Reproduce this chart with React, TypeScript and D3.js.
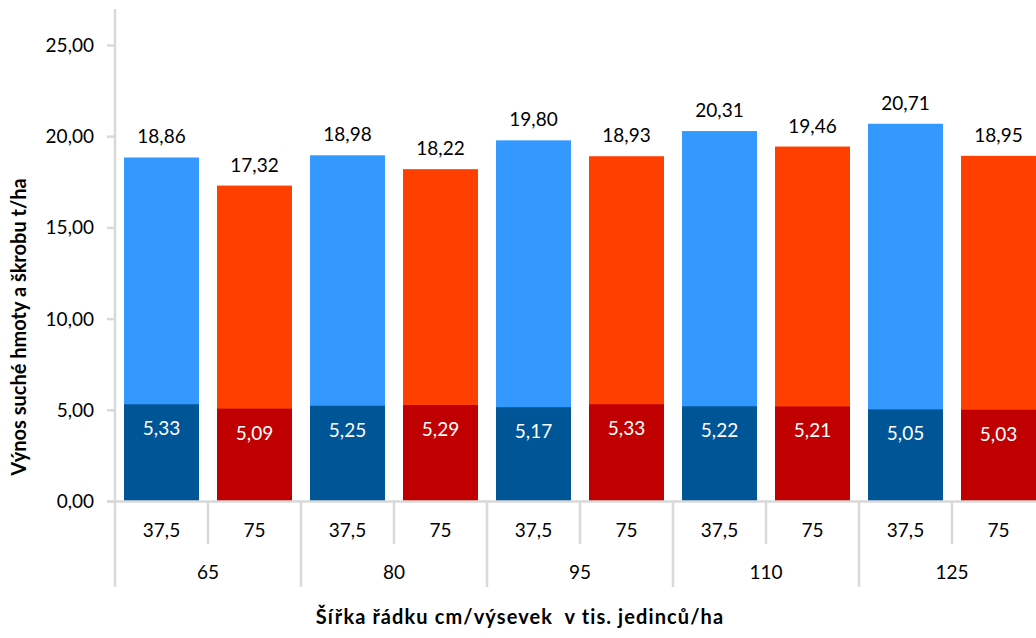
import React from "react";
import * as d3 from "d3";

const groups = ["65", "80", "95", "110", "125"];
const rowWidths = ["37,5", "75"];
const totals = [18.86, 17.32, 18.98, 18.22, 19.8, 18.93, 20.31, 19.46, 20.71, 18.95];
const starch = [5.33, 5.09, 5.25, 5.29, 5.17, 5.33, 5.22, 5.21, 5.05, 5.03];
const yTicks = [0, 5, 10, 15, 20, 25];

const W = 1036;
const H = 638;
const FONT = "Lato, 'Open Sans', sans-serif";
const fmt = (v: number) => v.toFixed(2).replace(".", ",");

export default function App() {
  const left = 115;
  const step = 93;
  const n = totals.length;
  const idx = d3.range(n);
  const x = d3
    .scaleBand<number>()
    .domain(idx)
    .range([left, left + step * n])
    .paddingInner(0.194)
    .paddingOuter(0.097);
  const y = d3.scaleLinear().domain([0, 25]).range([501.5, 45.5]);
  const bw = x.bandwidth();
  const y0 = y(0);
  const top = 9;
  const shortEnd = 544;
  const longEnd = 587;
  const grid = "#d9d9d9";
  const colTop = ["#3399ff", "#ff3f00"];
  const colBot = ["#005596", "#c00000"];
  const fs = 19;

  return (
    <svg width={W} height={H} style={{ position: "absolute", left: 0, top: 0 }} fontFamily={FONT}>
      <rect width={W} height={H} fill="#fff" />
      {idx.map((i) => (
        <g key={i}>
          <rect x={x(i)} y={y(totals[i])} width={bw} height={y0 - y(totals[i])} fill={colTop[i % 2]} />
          <rect x={x(i)} y={y(starch[i])} width={bw} height={y0 - y(starch[i])} fill={colBot[i % 2]} />
          <text x={(x(i) as number) + bw / 2} y={y(totals[i]) - 14} textAnchor="middle" fontSize={fs} fill="#000">
            {fmt(totals[i])}
          </text>
          <text x={(x(i) as number) + bw / 2} y={y(starch[i]) + 31} textAnchor="middle" fontSize={fs} fill="#fff">
            {fmt(starch[i])}
          </text>
          <text x={left + step * (i + 0.5)} y={537} textAnchor="middle" fontSize={fs} fill="#000">
            {rowWidths[i % 2]}
          </text>
        </g>
      ))}
      {groups.map((g, k) => (
        <text key={g} x={left + step * (2 * k + 1)} y={579} textAnchor="middle" fontSize={fs} fill="#000">
          {g}
        </text>
      ))}
      {/* y axis */}
      <line x1={left} x2={left} y1={top} y2={longEnd} stroke={grid} strokeWidth={2.5} />
      {yTicks.map((t) => (
        <g key={t}>
          <line x1={107} x2={left} y1={y(t)} y2={y(t)} stroke={grid} strokeWidth={2.5} />
          <text x={94} y={y(t) + 6.5} textAnchor="end" fontSize={fs} fill="#000">
            {fmt(t)}
          </text>
        </g>
      ))}
      {/* x axis */}
      <line x1={107} x2={W} y1={y0} y2={y0} stroke={grid} strokeWidth={2.5} />
      {d3.range(1, n + 1).map((j) => (
        <line
          key={j}
          x1={left + step * j}
          x2={left + step * j}
          y1={y0}
          y2={j % 2 === 0 ? longEnd : shortEnd}
          stroke={grid}
          strokeWidth={2.5}
        />
      ))}
      <text
        transform={`translate(26,327) rotate(-90)`}
        textAnchor="middle"
        fontSize={20}
        fontWeight="bold"
        fill="#000"
      >
        Výnos suché hmoty a škrobu t/ha
      </text>
      <text
        x={520}
        y={624}
        textAnchor="middle"
        fontSize={20}
        fontWeight="bold"
        fill="#000"
        letterSpacing={1.1}
        style={{ whiteSpace: "pre" }}
      >
        {"Šířka řádku cm/výsevek  v tis. jedinců/ha"}
      </text>
    </svg>
  );
}
